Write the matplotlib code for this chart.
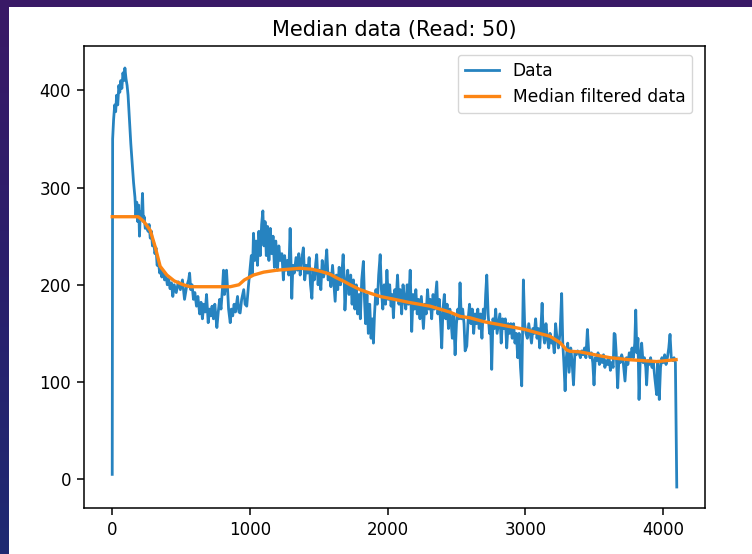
import numpy as np
import matplotlib
matplotlib.use("Agg")
import matplotlib.pyplot as plt
from matplotlib.patches import Rectangle
from matplotlib.colors import LinearSegmentedColormap

title = "Median data (Read: 50)"
legend_labels = ["Data", "Median filtered data"]
x_ticks = [0, 1000, 2000, 3000, 4000]
y_ticks = [0, 100, 200, 300, 400]

data_x = [0, 3, 10, 18, 25, 32, 40, 48, 55, 62, 70, 78, 85, 92, 100, 108, 115, 125, 135, 145,
          155, 165, 172, 178, 185, 192, 198, 204, 212, 220, 226, 232, 240,
          250, 260, 268, 276, 285, 292, 300, 310, 318, 326, 335, 345, 352, 360, 370, 380, 390,
          400, 410, 420, 430, 440, 450, 465, 480, 495, 510, 525, 540, 555, 562, 570, 580, 590,
          600, 612, 622, 635, 645, 655, 665, 675, 685, 697, 705, 715, 725, 735, 745, 760, 770,
          780, 790, 800, 808, 815, 825, 830, 838, 845, 857, 865, 875, 885, 895, 910, 920, 929,
          940, 955, 965, 977, 990, 1000, 1010, 1018, 1026, 1035, 1045, 1055, 1065, 1075, 1085,
          1094, 1102, 1110, 1119, 1128, 1138, 1148, 1158, 1168, 1178, 1188, 1200, 1210, 1220,
          1232, 1243, 1252, 1262, 1272, 1282, 1292, 1298, 1304, 1312, 1322, 1335, 1345, 1355,
          1365, 1375, 1388, 1398, 1410, 1420, 1430, 1440, 1450, 1458, 1468, 1478, 1485, 1495,
          1505, 1515, 1525, 1535, 1545, 1558, 1568, 1578, 1588, 1600, 1610, 1619, 1628, 1638,
          1648, 1658, 1668, 1677, 1685, 1690, 1700, 1710, 1720, 1732, 1742, 1752, 1762, 1772,
          1782, 1792, 1802, 1812, 1824, 1832, 1840, 1850, 1860, 1870, 1880, 1890, 1897, 1905,
          1915, 1925, 1935, 1946, 1955, 1965, 1975, 1985, 1995, 2005, 2015, 2025, 2035, 2042,
          2052, 2062, 2072, 2082, 2092, 2102, 2112, 2122, 2132, 2142, 2152, 2164, 2175, 2185,
          2195, 2205, 2215, 2225, 2235, 2245, 2260, 2270, 2280, 2290, 2300, 2310, 2320, 2330,
          2340, 2357, 2365, 2375, 2385, 2393, 2402, 2412, 2422, 2432, 2442, 2452, 2462, 2470,
          2480, 2490, 2500, 2510, 2518, 2526, 2535, 2545, 2555, 2563, 2575, 2585, 2595, 2605,
          2615, 2625, 2635, 2645, 2655, 2665, 2675, 2685, 2695, 2705, 2712, 2720, 2730, 2740,
          2748, 2756, 2765, 2775, 2785, 2795, 2805, 2815, 2825, 2835, 2845, 2855, 2865, 2875,
          2885, 2895, 2905, 2915, 2925, 2935, 2945, 2955, 2965, 2974, 2980, 2986, 2995, 3005,
          3015, 3025, 3035, 3045, 3055, 3065, 3075, 3085, 3095, 3105, 3115, 3122, 3130, 3140,
          3150, 3160, 3170, 3180, 3190, 3200, 3210, 3220, 3230, 3240, 3252, 3264, 3272, 3280,
          3289, 3298, 3308, 3318, 3330, 3340, 3350, 3360, 3370, 3380, 3390, 3400, 3410, 3420,
          3430, 3440, 3451, 3460, 3470, 3480, 3490, 3499, 3508, 3518, 3528, 3538, 3548, 3558,
          3568, 3578, 3588, 3598, 3608, 3618, 3628, 3638, 3645, 3652, 3660, 3671, 3680, 3690,
          3700, 3710, 3724, 3735, 3745, 3755, 3765, 3775, 3785, 3795, 3802, 3810, 3818, 3826,
          3835, 3845, 3855, 3865, 3875, 3881, 3890, 3900, 3910, 3920, 3930, 3940, 3954, 3962,
          3973, 3982, 3992, 4002, 4012, 4022, 4032, 4042, 4051, 4060, 4070, 4080, 4090, 4100]

data_y = [5, 350, 370, 385, 378, 395, 385, 405, 398, 410, 402, 418, 410, 423, 412, 405, 395, 370, 345, 325,
          305, 290, 270, 285, 265, 282, 250, 275, 268, 294, 265, 270, 258,
          262, 255, 262, 248, 255, 240, 245, 232, 238, 220, 224, 212, 218, 208, 214, 205, 210,
          200, 206, 196, 202, 188, 200, 192, 203, 195, 205, 185, 198, 205, 212, 195, 200, 185,
          192, 178, 188, 170, 182, 165, 180, 172, 190, 161, 175, 168, 178, 165, 180, 156, 172,
          185, 175, 195, 215, 190, 200, 215, 195, 175, 161, 175, 168, 180, 172, 188, 172, 171,
          185, 195, 180, 178, 200, 215, 230, 210, 253, 225, 245, 220, 255, 230, 262,
          276, 240, 265, 230, 260, 225, 258, 232, 250, 218, 245, 215, 240, 225,
          232, 205, 230, 215, 225, 210, 258, 225, 186, 220, 212, 228, 215, 232,
          210, 225, 238, 205, 220, 212, 228, 200, 186, 215, 205, 222, 231, 200,
          215, 195, 225, 208, 215, 236, 205, 212, 198, 220, 200, 183, 210, 195,
          218, 200, 212, 231, 205, 174, 200, 215, 190, 210, 180, 205, 175, 200,
          170, 190, 165, 205, 224, 185, 160, 190, 150, 180, 145, 165, 140, 170,
          195, 180, 210, 231, 195, 175, 200, 180, 215, 185, 200, 178, 190, 166,
          195, 185, 210, 180, 195, 170, 200, 185, 175, 200, 180, 215, 152, 190,
          175, 195, 170, 185, 165, 188, 155, 180, 170, 195, 175, 185, 165, 190,
          175, 203, 170, 185, 160, 135, 175, 190, 165, 180, 155, 175, 160, 145,
          170, 128, 160, 175, 165, 202, 165, 175, 160, 132, 137, 165, 180, 160,
          175, 150, 170, 160, 175, 155, 170, 145, 175, 165, 190, 210, 170, 150,
          160, 113, 165, 155, 175, 150, 160, 170, 140, 165, 155, 165, 135, 160,
          150, 160, 145, 160, 140, 150, 125, 150, 115, 96, 150, 205, 160, 150,
          145, 160, 150, 140, 155, 150, 165, 145, 155, 135, 160, 181, 150, 140,
          160, 145, 135, 150, 140, 145, 130, 160, 145, 135, 150, 191, 140, 120,
          91, 125, 140, 110, 135, 120, 97, 130, 128, 132, 130, 125, 132, 128,
          135, 125, 154, 132, 125, 130, 120, 97, 125, 122, 130, 118, 125, 120,
          128, 115, 122, 118, 125, 112, 120, 115, 150, 149, 130, 94, 125, 120,
          128, 122, 101, 125, 118, 130, 125, 135, 125, 140, 174, 130, 145, 82,
          125, 140, 120, 125, 115, 97, 122, 118, 125, 115, 120, 105, 87, 120,
          82, 115, 125, 120, 128, 118, 125, 135, 149, 125, 122, 125, 120, -8]

median_x = [0, 100, 189, 230, 276, 312, 348, 397, 450, 516, 566, 857, 920, 960, 1026, 1100,
            1195, 1365, 1450, 1510, 1580, 1631, 1690, 1728, 1800, 1880, 1946, 2050, 2150,
            2308, 2450, 2526, 2599, 2700, 2889, 3000, 3100, 3180, 3252, 3300, 3325, 3397,
            3470, 3540, 3615, 3750, 3954, 4095]
median_y = [270, 270, 270, 265, 256, 239, 219, 210, 204, 200, 198, 198, 200, 205, 210, 213,
            215, 217, 216, 214, 211, 207, 203, 200, 195, 191, 188, 185, 182,
            178, 172, 167.5, 166, 162, 157, 154, 150, 147, 140.5, 133, 131.6, 131,
            129, 127, 125, 123, 121, 123]

W, H = 752, 554
fig = plt.figure(figsize=(W / 100, H / 100), dpi=100)

# dark background with gradient, white figure area
bg = fig.add_axes([0, 0, 1, 1], zorder=-10)
grad = np.linspace(0, 1, 256).reshape(-1, 1)
cmap = LinearSegmentedColormap.from_list("bg", ["#3a1966", "#2a1f6c", "#1e2a72"])
bg.imshow(grad, aspect="auto", cmap=cmap, extent=[0, 1, 0, 1], origin="upper")
bg.add_patch(Rectangle((9 / W, 0), 1, 1 - 7 / H, transform=bg.transAxes,
                       facecolor="white", edgecolor="none"))
bg.set_xlim(0, 1)
bg.set_ylim(0, 1)
bg.axis("off")

ax_w = 705 - 84
ax_h = 508 - 46
ax = fig.add_axes([84 / W, 1 - 508 / H, ax_w / W, ax_h / H])
ax.plot(data_x, data_y, color="#2683c0", lw=2.0, label=legend_labels[0])
ax.plot(median_x, median_y, color="#fc8514", lw=2.4, label=legend_labels[1])
ax.set_xlim(-205, 4305)
ax.set_ylim(-29.6, 445.6)
ax.set_xticks(x_ticks)
ax.set_yticks(y_ticks)
ax.tick_params(labelsize=12, length=5, width=1.1, pad=4.3)
for s in ax.spines.values():
    s.set_linewidth(1.1)
ax.set_title(title, fontsize=15, pad=7)
ax.legend(loc="upper right", fontsize=12.3, handlelength=2.0, borderaxespad=0,
          bbox_to_anchor=(1 - 13 / ax_w, 1 - 9 / ax_h))

fig.savefig("out.png", dpi=100)
